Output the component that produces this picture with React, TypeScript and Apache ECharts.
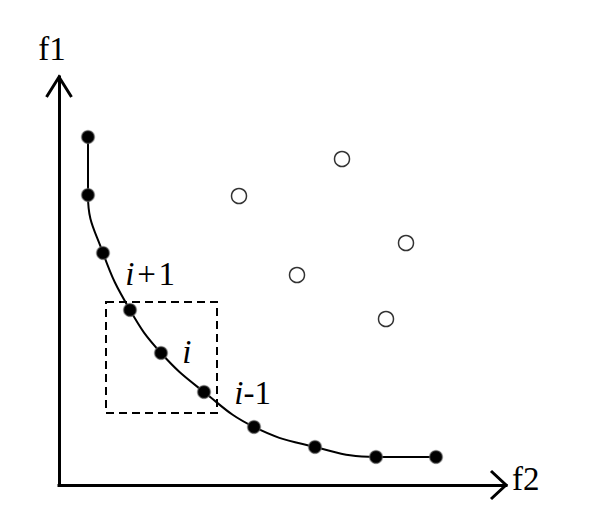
import React, { useEffect, useRef } from "react";
import * as echarts from "echarts";

// Pareto front (filled points): f2 (x) and f1 (y)
const frontF2 = [29, 29, 44, 71, 102, 145, 195, 256, 317, 377];
const frontF1 = [348, 290, 232, 175, 132, 93, 58, 38, 28, 28];
const frontLabels = ["", "", "", "i+1", "i", "i-1", "", "", "", ""];

// Dominated solutions (open circles)
const otherF2 = [283, 180, 347, 238, 327];
const otherF1 = [326, 289, 242, 210, 166];

// Dashed neighbourhood box around point i
const boxF2 = [47, 158];
const boxF1 = [72, 183];

const axisMaxF2 = 447;
const axisMaxF1 = 408;

const FONT = "'Liberation Serif', 'Times New Roman', serif";
const FS = 33;

const labelOffsets: Record<string, [number, number]> = {
  "i+1": [-12, -36],
  i: [14, -1],
  "i-1": [23, 1],
};

function richLabel(lab: string): string {
  const rest = lab.slice(1);
  if (!rest) return "{it|" + lab + "}";
  const spaced = rest.charAt(0) === "+" ? "\u200A+\u200A" + rest.slice(1) : rest;
  return "{it|" + lab.charAt(0) + "}{n|" + spaced + "}";
}

export default function App() {
  const ref = useRef<HTMLDivElement>(null);
  useEffect(() => {
    if (!ref.current) return;
    const chart = echarts.init(ref.current, null, { renderer: "svg" });

    const frontData = frontF2.map((x, k) => {
      const lab = frontLabels[k];
      const item: any = { value: [x, frontF1[k]] };
      if (lab) {
        item.label = {
          show: true,
          position: "right",
          distance: 0,
          offset: labelOffsets[lab],
          formatter: richLabel(lab),
          rich: {
            it: { fontFamily: FONT, fontStyle: "italic", fontSize: FS, color: "#000" },
            n: { fontFamily: FONT, fontSize: FS, color: "#000" },
          },
        };
      }
      return item;
    });

    chart.setOption({
      animation: false,
      grid: { left: 59, top: 77, right: 604 - 506, bottom: 517 - 485 },
      xAxis: {
        type: "value",
        min: 0,
        max: axisMaxF2,
        name: "f2",
        nameLocation: "end",
        nameGap: 6,
        nameTextStyle: {
          fontFamily: FONT,
          fontSize: FS,
          color: "#000",
          verticalAlign: "bottom",
          lineHeight: 12,
        },
        axisLine: { show: true, lineStyle: { color: "#000", width: 3, cap: "square" } },
        axisTick: { show: false },
        axisLabel: { show: false },
        splitLine: { show: false },
      },
      yAxis: {
        type: "value",
        min: 0,
        max: axisMaxF1,
        name: "f1",
        nameLocation: "end",
        nameGap: 12,
        nameTextStyle: { fontFamily: FONT, fontSize: FS, color: "#000", padding: [0, 14, 0, 0] },
        axisLine: { show: true, lineStyle: { color: "#000", width: 3, cap: "square" } },
        axisTick: { show: false },
        axisLabel: { show: false },
        splitLine: { show: false },
      },
      series: [
        {
          type: "line",
          data: frontData,
          smooth: 0.45,
          symbol: "circle",
          symbolSize: 13,
          showAllSymbol: true,
          lineStyle: { color: "#000", width: 2 },
          itemStyle: { color: "#000", borderColor: "rgba(120,120,120,0.5)", borderWidth: 1.5 },
          markArea: {
            silent: true,
            itemStyle: {
              color: "rgba(0,0,0,0)",
              borderColor: "#000",
              borderWidth: 2,
              borderType: [8, 5],
            },
            data: [[{ coord: [boxF2[0], boxF1[1]] }, { coord: [boxF2[1], boxF1[0]] }]],
          },
          z: 3,
        },
        {
          type: "scatter",
          data: otherF2.map((x, k) => [x, otherF1[k]]),
          symbol: "circle",
          symbolSize: 15,
          itemStyle: { color: "#fff", borderColor: "#000", borderWidth: 1.5 },
          z: 3,
        },
      ],
    });

    const xe = chart.convertToPixel({ gridIndex: 0 }, [axisMaxF2, 0]) as number[];
    const ye = chart.convertToPixel({ gridIndex: 0 }, [0, axisMaxF1]) as number[];
    chart.setOption({
      graphic: [
        {
          type: "polyline",
          shape: {
            points: [
              [ye[0] - 12.5, ye[1] + 20],
              [ye[0], ye[1]],
              [ye[0] + 12.5, ye[1] + 20],
            ],
          },
          style: { stroke: "#000", lineWidth: 3, fill: null },
          z: 10,
        },
        {
          type: "polyline",
          shape: {
            points: [
              [xe[0] - 15, xe[1] - 14],
              [xe[0], xe[1]],
              [xe[0] - 15, xe[1] + 14],
            ],
          },
          style: { stroke: "#000", lineWidth: 3, fill: null },
          z: 10,
        },
      ],
    });

    return () => chart.dispose();
  }, []);
  return (
    <div
      ref={ref}
      style={{ position: "absolute", left: 0, top: 0, width: 604, height: 517, background: "#fff" }}
    />
  );
}
